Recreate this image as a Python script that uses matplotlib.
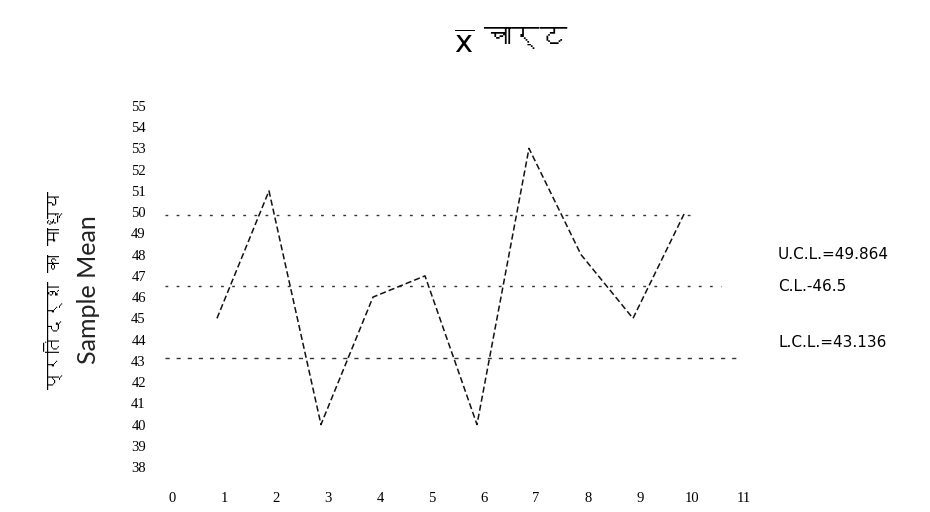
import matplotlib
matplotlib.use("Agg")
import matplotlib.pyplot as plt
import matplotlib.transforms as mtransforms
from matplotlib import font_manager

# x-bar chart data
samples = [1, 2, 3, 4, 5, 6, 7, 8, 9, 10]
means = [45, 51, 40, 46, 47, 40, 53, 48, 45, 50]
ucl = 49.864
cl = 46.5
lcl = 43.136
x_ticks = list(range(0, 12))
y_ticks = list(range(38, 56))

title_hi = "चार्ट"
ylabel_hi = "प्रतिदर्श का माध्य"
ylabel_en = "Sample Mean"


def find_devanagari_font():
    """Ищем установленный шрифт с деванагари"""
    try:
        from fontTools.ttLib import TTFont
    except Exception:
        return None
    for f in font_manager.fontManager.ttflist:
        try:
            tt = TTFont(f.fname, fontNumber=0, lazy=True)
            cmap = tt.getBestCmap()
            if cmap and 0x091A in cmap:
                return f.name
        except Exception:
            continue
    return None


deva = find_devanagari_font()
hi_family = [deva, "DejaVu Sans"] if deva else ["DejaVu Sans"]

fig = plt.figure(figsize=(9.3, 5.12), dpi=100)
ax = fig.add_axes([150 / 930, 1 - 480 / 512, 600 / 930, 400 / 512])
ax.set_xlim(-0.288, 11.25)
ax.set_ylim(37.39, 56.22)

for s in ax.spines.values():
    s.set_visible(False)
ax.tick_params(length=0)
ax.set_xticks(x_ticks)
ax.set_xticklabels([str(t) for t in x_ticks], family="Liberation Serif", fontsize=10.5)
ax.set_yticks(y_ticks)
ax.set_yticklabels([str(t) for t in y_ticks], family="Liberation Serif", fontsize=10.5)
ax.tick_params(axis="x", pad=9)
ax.tick_params(axis="y", pad=3)

# подписи оси X чуть сдвинуты вправо, как в скане
shift = mtransforms.ScaledTranslation(7 / 100, 0, fig.dpi_scale_trans)
for lbl in ax.get_xticklabels():
    lbl.set_transform(lbl.get_transform() + shift)

# линии контроля
ax.plot([0, 10.2], [ucl, ucl], color="#333333", lw=1.0, linestyle=(0, (2, 6)))
ax.plot([0, 10.7], [cl, cl], color="#333333", lw=1.0, linestyle=(0, (2, 6)))
ax.plot([0, 11.0], [lcl, lcl], color="#333333", lw=1.0, linestyle=(0, (3, 5)))

# средние значения выборок
ax.plot(samples, means, color="#111111", lw=1.1, linestyle=(0, (4, 2)))

# подписи справа
ax.text(11.79, 48.0, f"U.C.L.={ucl}", fontsize=11, family="DejaVu Sans",
        va="center", ha="left", clip_on=False)
ax.text(11.79, 46.5, f"C.L.-{cl}", fontsize=11, family="DejaVu Sans",
        va="center", ha="left", clip_on=False)
ax.text(11.79, 43.85, f"L.C.L.={lcl}", fontsize=11, family="DejaVu Sans",
        va="center", ha="left", clip_on=False)

# заголовок
fig.text(474 / 930, 1 - 45 / 512, r"$\overline{\mathrm{x}}$", fontsize=22,
         ha="right", va="center")
fig.text(484 / 930, 1 - 38 / 512, title_hi, fontsize=20, family=hi_family,
         ha="left", va="center")

# подписи оси Y
fig.text(53 / 930, 1 - 290 / 512, ylabel_hi, fontsize=13, family=hi_family,
         rotation=90, ha="center", va="center", fontweight="bold")
fig.text(88 / 930, 1 - 290 / 512, ylabel_en, fontsize=18, family="Lato",
         color="#222222", rotation=90, ha="center", va="center")

fig.savefig("out.png", dpi=100, facecolor="white")
